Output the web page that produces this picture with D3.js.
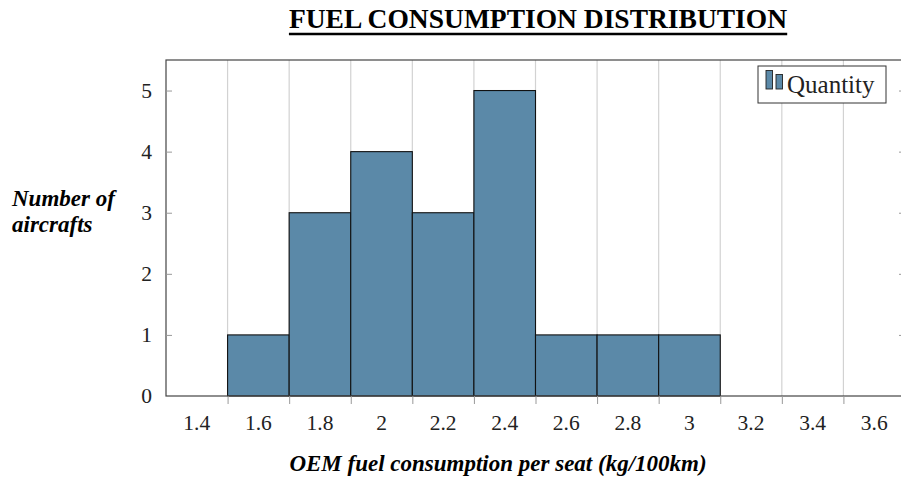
<!DOCTYPE html>
<html>
<head>
<meta charset="utf-8">
<script src="https://cdn.jsdelivr.net/npm/d3@7"></script>
<style>
  html, body { margin: 0; padding: 0; background: #fff; }
  svg { display: block; }
</style>
</head>
<body>
<svg id="chart" width="901" height="479"></svg>
<script>
// Histogram bins (centre of each 0.2-wide interval) and aircraft counts
const binCentres = [1.4, 1.6, 1.8, 2.0, 2.2, 2.4, 2.6, 2.8, 3.0, 3.2, 3.4, 3.6];
const quantity   = [0,   1,   3,   4,   3,   5,   1,   1,   1,   0,   0,   0];
const binWidth = 0.2;
const xTickLabels = ["1.4", "1.6", "1.8", "2", "2.2", "2.4", "2.6", "2.8", "3", "3.2", "3.4", "3.6"];
const yTicks = [0, 1, 2, 3, 4, 5];
const seriesName = "Quantity";

(function draw() {
  const svg = d3.select("#chart");
  const W = 901, H = 479;
  const mLeft = 166, mRight = 905, mTop = 60, mBottom = 396;

  const serif = "'Liberation Serif', 'Times New Roman', serif";
  const barFill = "#5b89a8";

  const x = d3.scaleLinear().domain([1.3, 3.7]).range([mLeft, mRight]);
  const y = d3.scaleLinear().domain([0, 5.5]).range([mBottom, mTop]);

  svg.append("defs").append("clipPath").attr("id", "plotclip")
    .append("rect").attr("x", 0).attr("y", 0).attr("width", W).attr("height", H);

  const plot = svg.append("g").attr("clip-path", "url(#plotclip)");

  // Bin edges carry the grid lines and tick marks
  const edges = d3.range(binCentres.length - 1).map(i => binCentres[i] + binWidth / 2);

  plot.append("g").selectAll("line").data(edges).join("line")
    .attr("x1", d => x(d)).attr("x2", d => x(d))
    .attr("y1", mTop).attr("y2", mBottom)
    .attr("stroke", "#d2d2d2").attr("stroke-width", 1.2);

  // Bars
  plot.append("g").selectAll("rect").data(binCentres).join("rect")
    .attr("x", d => x(d - binWidth / 2))
    .attr("width", x(binWidth) - x(0))
    .attr("y", (d, i) => y(quantity[i]))
    .attr("height", (d, i) => y(0) - y(quantity[i]))
    .attr("fill", barFill)
    .attr("stroke", "#111")
    .attr("stroke-width", 1.1);

  // Axis frame
  plot.append("rect")
    .attr("x", mLeft).attr("y", mTop)
    .attr("width", mRight - mLeft).attr("height", mBottom - mTop)
    .attr("fill", "none").attr("stroke", "#444").attr("stroke-width", 1.2);

  // x tick marks below the axis at bin edges
  const xAxis = d3.axisBottom(x).tickValues(edges).tickSize(8).tickFormat("");
  const gx = plot.append("g").attr("transform", `translate(0,${mBottom})`).call(xAxis);
  gx.select(".domain").remove();
  gx.selectAll(".tick line").attr("stroke", "#999").attr("stroke-width", 1);

  // x labels sit at the bin centres
  svg.append("g").selectAll("text").data(binCentres).join("text")
    .attr("x", d => x(d)).attr("y", 430)
    .attr("text-anchor", "middle")
    .attr("font-family", serif).attr("font-size", 21.5)
    .attr("fill", "#222")
    .text((d, i) => xTickLabels[i]);

  // y ticks (inner) on both sides, labels on the left
  const yAxisL = d3.axisLeft(y).tickValues(yTicks).tickSize(-6).tickPadding(14).tickFormat(d3.format("d"));
  const gy = svg.append("g").attr("transform", `translate(${mLeft},0)`).call(yAxisL);
  gy.select(".domain").remove();
  gy.selectAll(".tick line").attr("stroke", "#999");
  gy.selectAll(".tick text").attr("font-family", serif).attr("font-size", 21.5).attr("fill", "#222");
  gy.selectAll(".tick").filter(d => d === 0).select("line").remove();

  const yAxisR = d3.axisRight(y).tickValues(yTicks.filter(d => d > 0)).tickSize(-6).tickFormat("");
  const gyr = plot.append("g").attr("transform", `translate(${mRight},0)`).call(yAxisR);
  gyr.select(".domain").remove();
  gyr.selectAll(".tick line").attr("stroke", "#999");

  // Legend
  const lg = svg.append("g");
  lg.append("rect").attr("x", 758).attr("y", 66).attr("width", 128).attr("height", 37)
    .attr("fill", "#fff").attr("stroke", "#333").attr("stroke-width", 1);
  lg.append("rect").attr("x", 766).attr("y", 70.5).attr("width", 6.5).attr("height", 18.5)
    .attr("fill", barFill).attr("stroke", "#222").attr("stroke-width", 0.9);
  lg.append("rect").attr("x", 776).attr("y", 74.5).attr("width", 6.5).attr("height", 14.5)
    .attr("fill", barFill).attr("stroke", "#222").attr("stroke-width", 0.9);
  lg.append("text").attr("x", 787).attr("y", 93)
    .attr("font-family", serif).attr("font-size", 25).attr("fill", "#222")
    .text(seriesName);

  // Title
  const title = svg.append("text").attr("x", 538).attr("y", 28)
    .attr("text-anchor", "middle")
    .attr("font-family", serif).attr("font-weight", "bold").attr("font-size", 27.5)
    .attr("fill", "#000")
    .text("FUEL CONSUMPTION DISTRIBUTION");
  const tb = title.node().getBBox();
  svg.append("line").attr("x1", tb.x).attr("x2", tb.x + tb.width)
    .attr("y1", 34).attr("y2", 34).attr("stroke", "#000").attr("stroke-width", 2.4);

  // Axis titles
  const yl = svg.append("text").attr("font-family", serif).attr("font-weight", "bold")
    .attr("font-style", "italic").attr("font-size", 23).attr("fill", "#000");
  yl.append("tspan").attr("x", 12).attr("y", 206).text("Number of");
  yl.append("tspan").attr("x", 12).attr("y", 232).text("aircrafts");

  svg.append("text").attr("x", 498).attr("y", 471).attr("text-anchor", "middle")
    .attr("font-family", serif).attr("font-weight", "bold").attr("font-style", "italic")
    .attr("font-size", 23).attr("fill", "#000")
    .text("OEM fuel consumption per seat (kg/100km)");
})();
</script>
</body>
</html>
